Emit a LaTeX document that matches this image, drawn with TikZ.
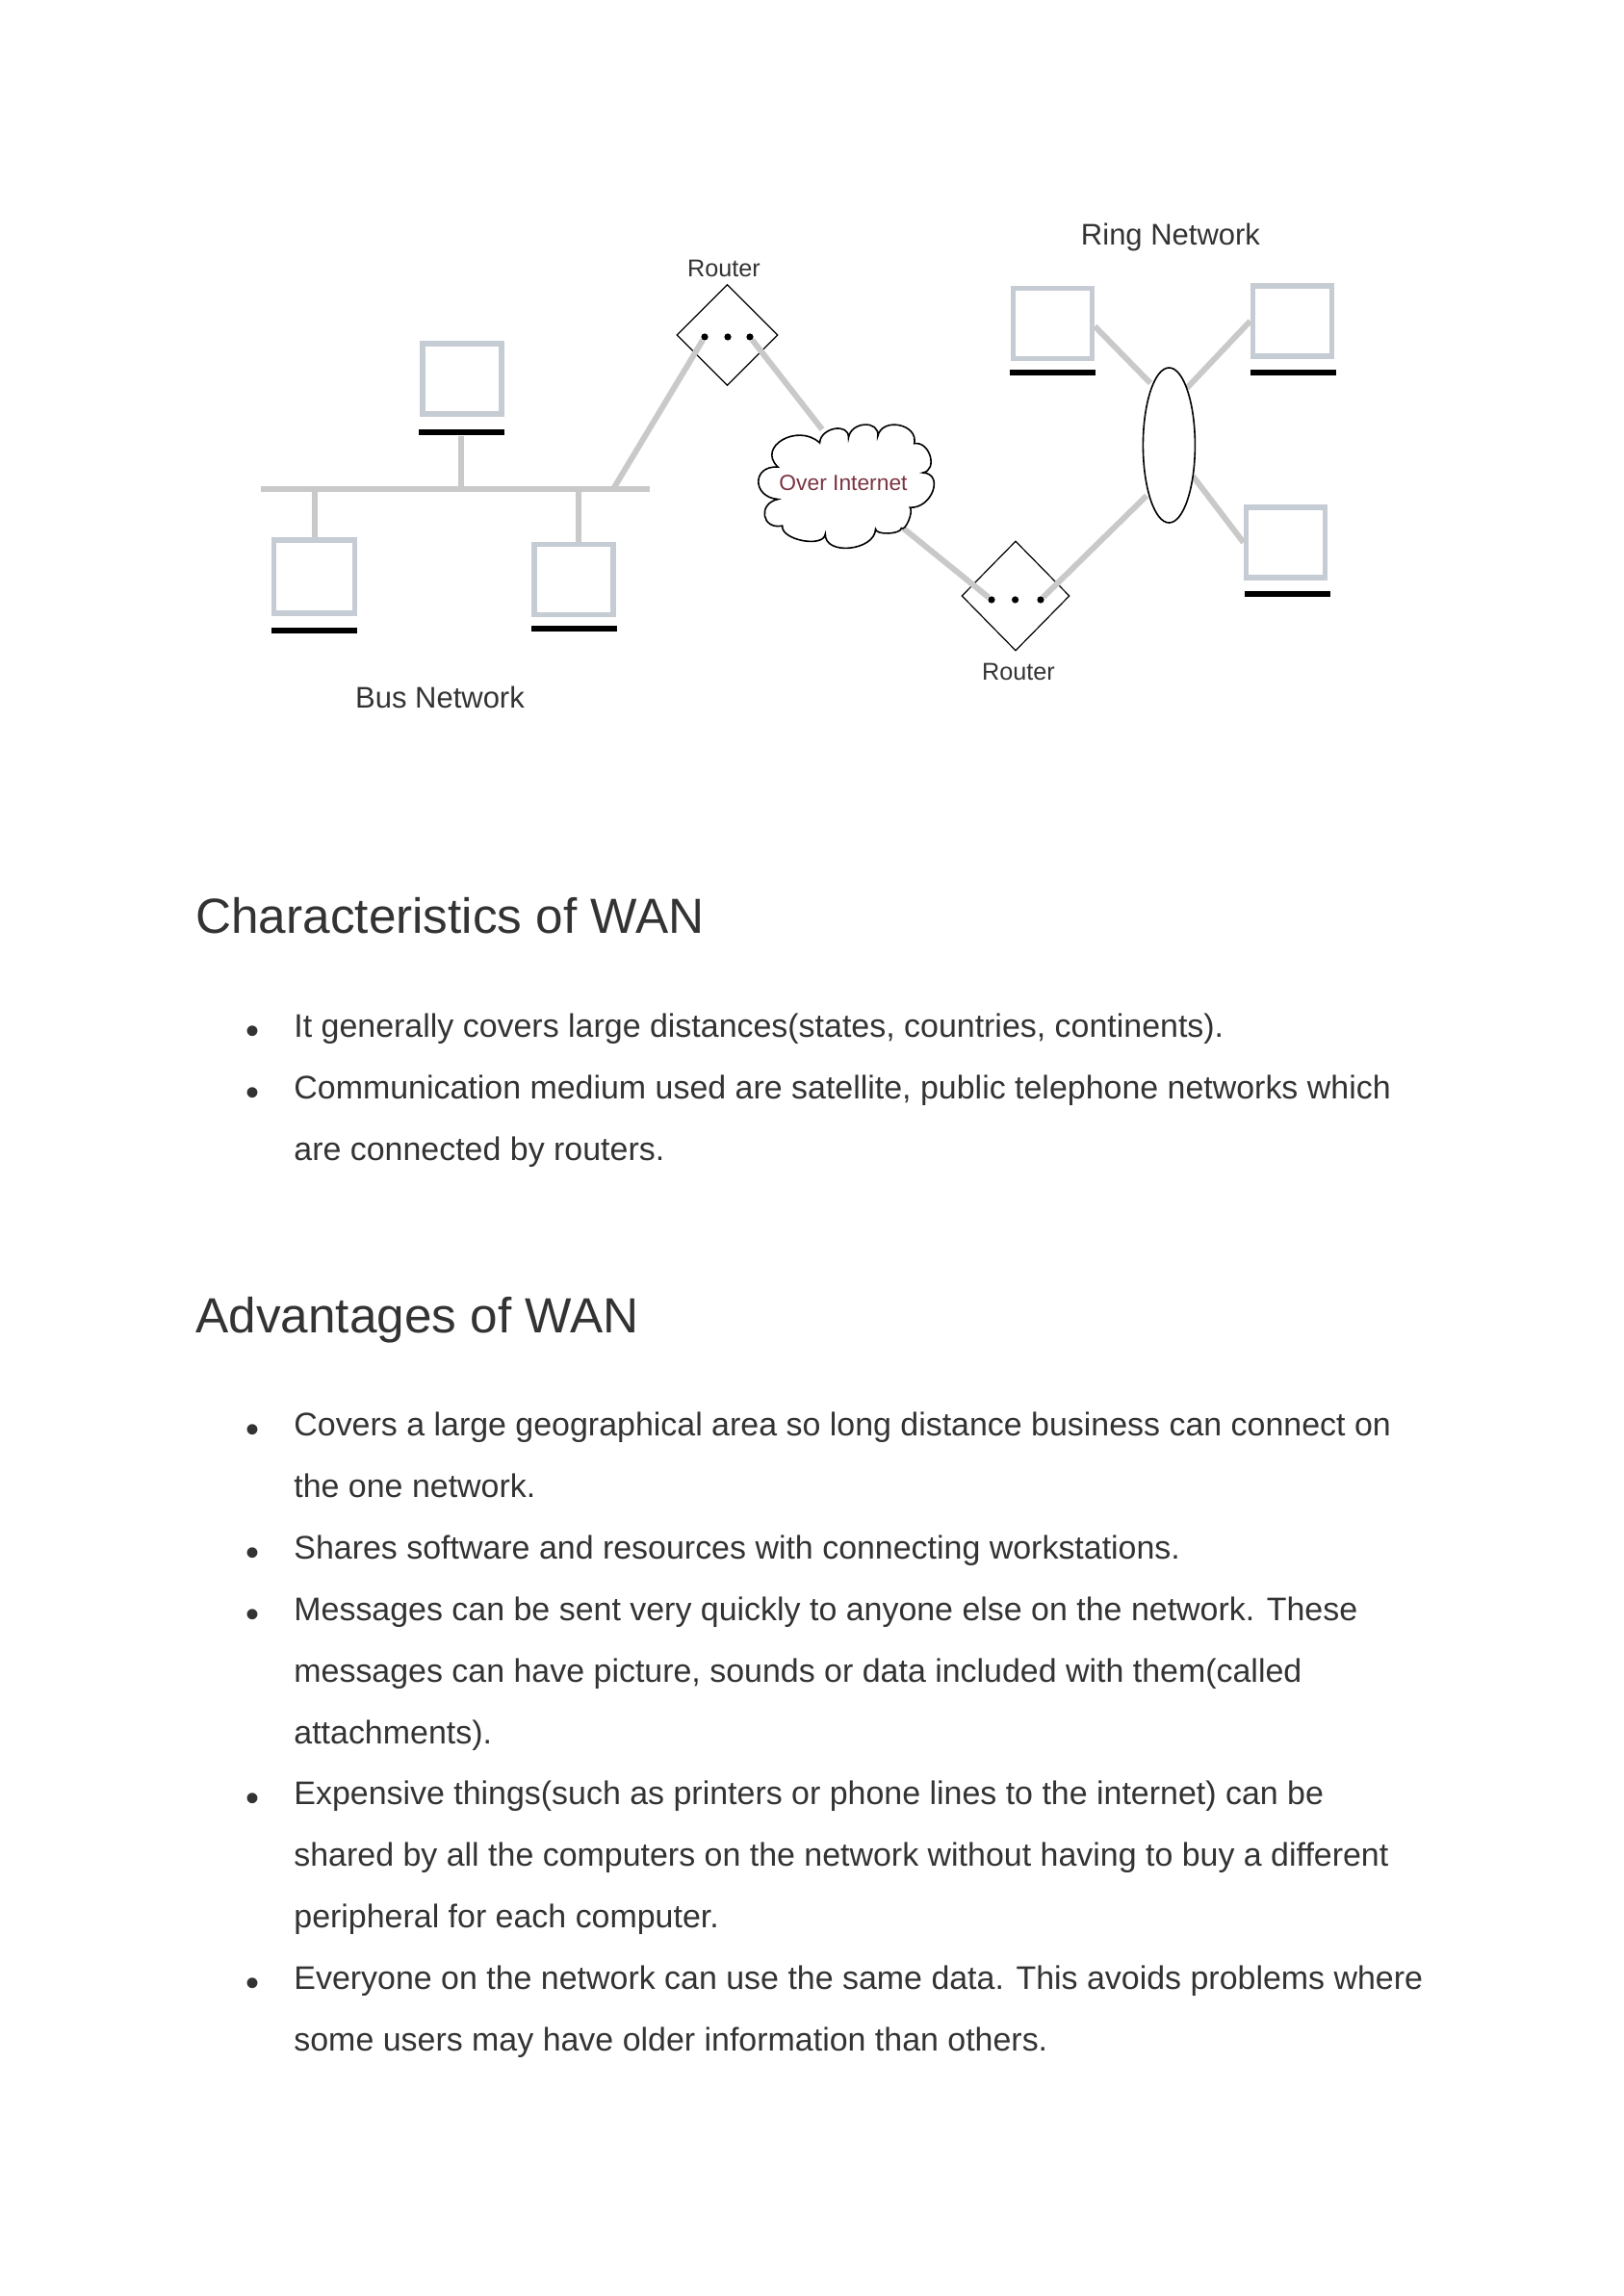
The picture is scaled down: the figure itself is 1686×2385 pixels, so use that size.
\documentclass[tikz,border=0pt]{standalone}
\usepackage{fontspec}
\setmainfont{Liberation Sans}
\usetikzlibrary{shapes.geometric}
\definecolor{wire}{HTML}{C9C9C9}
\definecolor{pcframe}{HTML}{C6CCD3}
\definecolor{inktext}{HTML}{333333}
\definecolor{cloudtext}{HTML}{7A3442}
\tikzset{
  pcbox/.style={rectangle,draw=pcframe,line width=2.8pt,fill=white,inner sep=0pt,minimum width=41pt,minimum height=36.5pt},
  pcbar/.style={rectangle,fill=black,inner sep=0pt,minimum width=44.5pt,minimum height=3.2pt},
  wireline/.style={draw=wire,line width=3pt},
  routerbox/.style={diamond,draw=black,line width=.6pt,fill=white,inner sep=0pt},
  portdot/.style={circle,fill=black,inner sep=0pt,minimum size=3.6pt},
  netlabel/.style={inner sep=0pt,text=black!80,font=\fontsize{15.5}{18}\selectfont},
  routerlabel/.style={inner sep=0pt,text=black!80,font=\fontsize{12.6}{15}\selectfont},
  heading/.style={anchor=base west,inner sep=0pt,text=inktext,font=\fontsize{25.65}{30}\selectfont},
  bodyline/.style={anchor=base west,inner sep=0pt,text=inktext,font=\fontsize{16.97}{20}\selectfont},
  bulletmark/.style={anchor=base,inner sep=0pt,text=inktext,font=\fontsize{20}{20}\selectfont}
}
\begin{document}
\begin{tikzpicture}[x=.5pt,y=-.5pt]
\useasboundingbox[fill=white] (0,0) rectangle (1686,2385);

% anchors of the bus
\coordinate (busL) at (271,508);
\coordinate (busR) at (675,508);
\coordinate (busJoin) at (637,508);
\coordinate (tapRight) at (601,508);
\coordinate (cloudIn) at (854,446);
\coordinate (cloudOut) at (938,548.5);
\coordinate (ringTL) at (1195,398);
\coordinate (ringTR) at (1233,403);
\coordinate (ringBR) at (1239,494.4);
\coordinate (ringIn) at (1191,515);

% computers of the bus network
\node[pcbar] (barTop) at (479.5,449) {};
\node[pcbar] (barLeft) at (326.5,655) {};
\node[pcbar] (barRight) at (596,653) {};
\draw[wireline] (barTop.south -| 479,0) -- (479,508);
\draw[wireline] (busL) -- (busR);
\node[pcbox] (pcTop) at (480,393.5) {};
\node[pcbox,minimum width=42pt,minimum height=38pt] (pcLeft) at (326.5,599) {};
\node[pcbox] (pcRight) at (596,602) {};
\draw[wireline] (busL -| pcLeft) -- (pcLeft.north);
\draw[wireline] (tapRight) -- (tapRight |- pcRight.north);

% routers
\node[routerbox,minimum width=52.5pt,minimum height=52.5pt] (routerA) at (755.5,348) {};
\node[routerbox,minimum width=56pt,minimum height=57pt] (routerB) at (1055,619) {};
\node[portdot] (a1) at (732,350) {};
\node[portdot] (a2) at (756,350) {};
\node[portdot] (a3) at (779,350) {};
\node[portdot] (b1) at (1030,623) {};
\node[portdot] (b2) at (1054.6,623) {};
\node[portdot] (b3) at (1081,623) {};

% links
\draw[wireline] (busJoin) -- (a1);
\draw[wireline] (a3) -- (cloudIn);
\draw[wireline] (cloudOut) -- (b1);
\draw[wireline] (b3) -- (ringIn);

% cloud
\begin{scope}[shift={(760,200)},xscale=0.4464,yscale=0.3444]
\draw[black,line width=.8pt,fill=white]
  (108,828) .. controls (57,767) and (154,694) .. (205,755)
  .. controls (207,708) and (274,693) .. (272,740)
  .. controls (277,690) and (345,685) .. (340,735)
  .. controls (350,676) and (435,698) .. (425,757)
  .. controls (461,749) and (481,837) .. (445,845)
  .. controls (495,848) and (467,953) .. (415,950)
  .. controls (424,962) and (404,1024) .. (395,1012)
  .. controls (395,1031) and (335,1034) .. (335,1015)
  .. controls (333,1081) and (216,1096) .. (218,1030)
  .. controls (214,1073) and (114,1048) .. (118,1005)
  .. controls (70,1018) and (60,938) .. (108,925)
  .. controls (47,919) and (47,822) .. (108,828) -- cycle;
\end{scope}
\node[inner sep=0pt,text=cloudtext,font=\fontsize{11.4}{14}\selectfont] (cloudLabel) at (876,501.5) {Over Internet};

% ring network
\node[pcbar] (barTL) at (1093.5,387) {};
\node[pcbar] (barTR) at (1343,387) {};
\node[pcbar] (barBR) at (1337,617) {};
\node[pcbox] (pcTL) at (1093.5,336) {};
\node[pcbox] (pcTR) at (1342.5,333.5) {};
\node[pcbox] (pcBR) at (1335.5,563.5) {};
\draw[wireline] (pcTL.east) ++(0,3) -- (ringTL);
\draw[wireline] (pcTR.west) -- (ringTR);
\draw[wireline] (ringBR) -- (pcBR.west);
\node[ellipse,draw=black,line width=.8pt,fill=white,inner sep=0pt,minimum width=27pt,minimum height=80.5pt] (ring) at (1214.4,462.5) {};

% diagram labels
\node[routerlabel] (labelA) at (752,279) {Router};
\node[routerlabel] (labelB) at (1058,698) {Router};
\node[netlabel] (labelBus) at (457,724) {Bus Network};
\node[netlabel] (labelRing) at (1216,246) {Ring Network};

% text
\node[heading] (h1) at (203,969) {Characteristics of WAN};
\node[heading] (h2) at (203,1384) {Advantages of WAN};

\node[bulletmark] (m1) at (262,1084) {•};
\node[bulletmark] (m2) at (262,1148) {•};
\node[bulletmark] (m3) at (262,1498.5) {•};
\node[bulletmark] (m4) at (262,1626.3) {•};
\node[bulletmark] (m5) at (262,1690.2) {•};
\node[bulletmark] (m6) at (262,1881.9) {•};
\node[bulletmark] (m7) at (262,2073.6) {•};

\node[bodyline] (t1) at (305,1077) {It generally covers large distances(states, countries, continents).};
\node[bodyline] (t2) at (305,1141) {Communication medium used are satellite, public telephone networks which};
\node[bodyline] (t3) at (305,1205) {are connected by routers.};
\node[bodyline] (t4) at (305,1491.5) {Covers a large geographical area so long distance business can connect on};
\node[bodyline] (t5) at (305,1555.4) {the one network.};
\node[bodyline] (t6) at (305,1619.3) {Shares software and resources with connecting workstations.};
\node[bodyline] (t7) at (305,1683.2) {Messages can be sent very quickly to anyone else on the network. These};
\node[bodyline] (t8) at (305,1747.1) {messages can have picture, sounds or data included with them(called};
\node[bodyline] (t9) at (305,1811) {attachments).};
\node[bodyline] (t10) at (305,1874.9) {Expensive things(such as printers or phone lines to the internet) can be};
\node[bodyline] (t11) at (305,1938.8) {shared by all the computers on the network without having to buy a different};
\node[bodyline] (t12) at (305,2002.7) {peripheral for each computer.};
\node[bodyline] (t13) at (305,2066.6) {Everyone on the network can use the same data. This avoids problems where};
\node[bodyline] (t14) at (305,2130.5) {some users may have older information than others.};
\end{tikzpicture}
\end{document}
